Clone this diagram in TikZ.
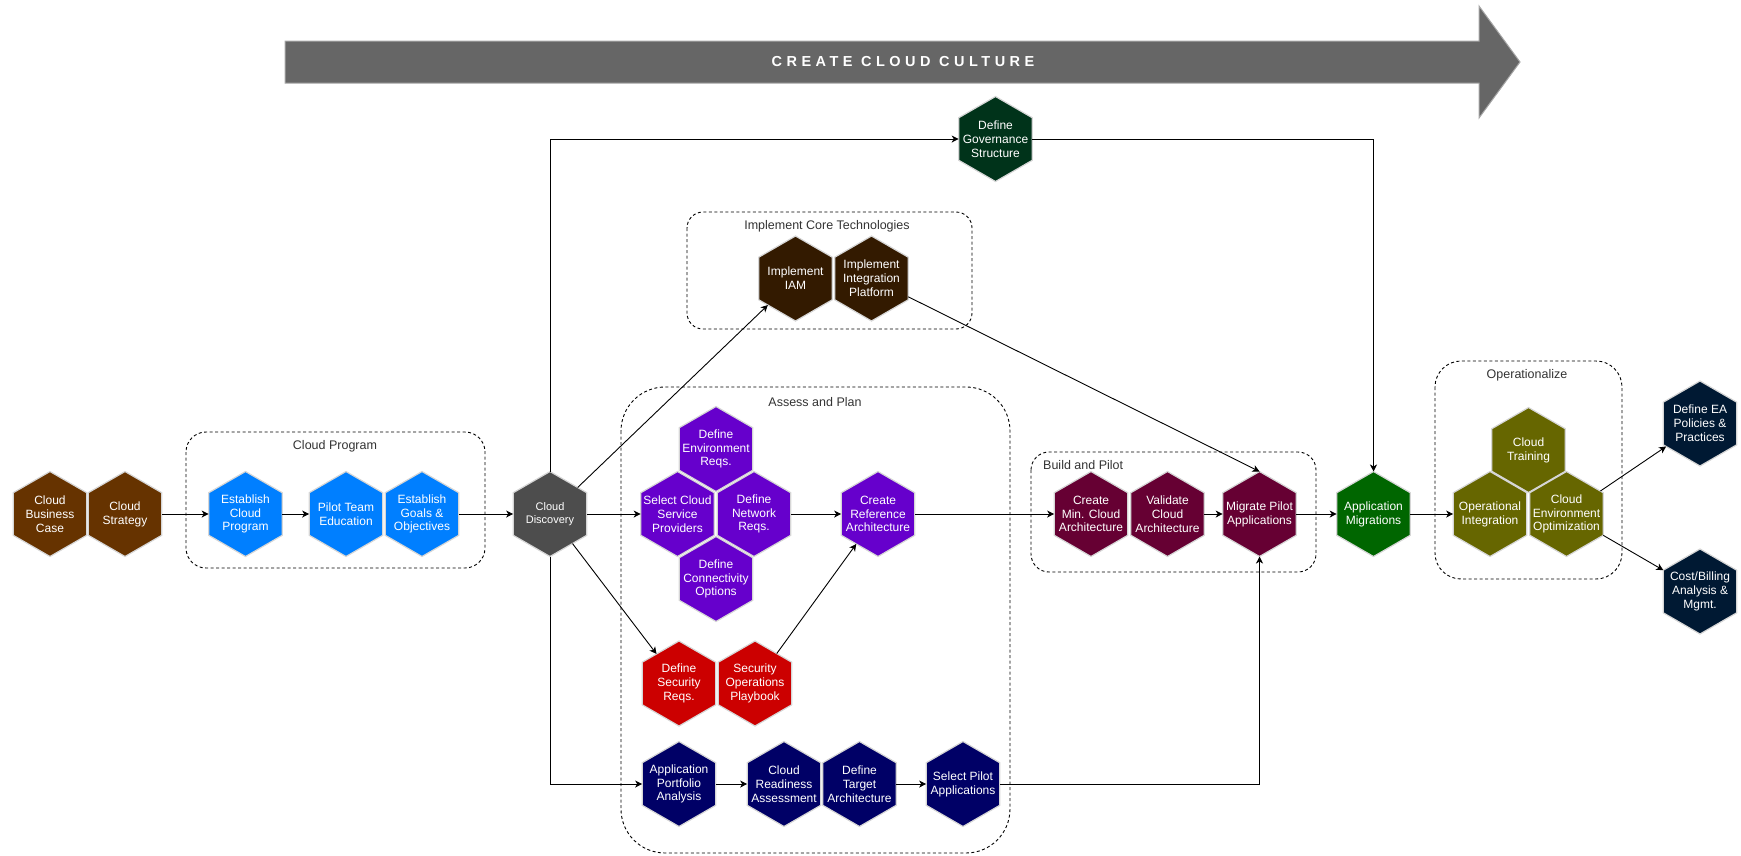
\documentclass[tikz,border=0pt]{standalone}
\usepackage{fontspec}
\setmainfont{Liberation Sans}
\usetikzlibrary{shapes.geometric,arrows.meta}
\definecolor{cbrown}{HTML}{663300}
\definecolor{cblue}{HTML}{007FFF}
\definecolor{cgray}{HTML}{4D4D4D}
\definecolor{cpurple}{HTML}{6600CC}
\definecolor{cred}{HTML}{CC0000}
\definecolor{cnavy}{HTML}{000066}
\definecolor{cdbrown}{HTML}{331A00}
\definecolor{cmaroon}{HTML}{660033}
\definecolor{cgreen}{HTML}{006600}
\definecolor{colive}{HTML}{666600}
\definecolor{cdnavy}{HTML}{001933}
\definecolor{cdgreen}{HTML}{00331A}
\definecolor{hexline}{HTML}{D6D6D6}
\definecolor{banfill}{HTML}{666666}
\definecolor{banline}{HTML}{A6A6A6}
\definecolor{ttlcol}{HTML}{333333}
\newcommand{\hexnode}[4]{%
  \node[hexs,fill=#3] (#1) at (#2) {};
  \node[hext] (#1-t) at (#2) {#4};}
\begin{document}
\begin{tikzpicture}[x=1pt,y=-1pt,
  hexs/.style={regular polygon, regular polygon sides=6, shape border rotate=30,
    minimum size=85pt, inner sep=0pt, outer sep=0pt, draw=hexline, line width=1.2pt},
  hext/.style={text=white, align=center, inner sep=0pt,
    font=\fontsize{12}{13.8}\selectfont},
  arr/.style={draw=black, line width=0.9pt, -{Stealth[length=7pt,width=7pt,inset=2pt]}},
  plain/.style={draw=black, line width=0.9pt},
  grp/.style={draw=black, line width=0.9pt, dash pattern=on 3pt off 2.5pt},
  ttl/.style={text=ttlcol, inner sep=0pt, font=\fontsize{12.5}{14}\selectfont}]
\useasboundingbox (0,0) rectangle (1741,855);

% banner
\draw[fill=banfill, draw=banline, line width=1pt]
  (285,41) -- (1479,41) -- (1479,6) -- (1520,62) -- (1479,118) -- (1479,83) -- (285,83) -- cycle;
\node[text=white, inner sep=0pt, font=\fontsize{14.5}{14.5}\selectfont\bfseries\addfontfeatures{LetterSpace=31}] (banner) at (903,62) {CREATE CLOUD CULTURE};

% group boxes
\draw[grp, rounded corners=20pt] (186,432) rectangle (485,568);
\node[ttl] (t-cp) at (335,446) {Cloud Program};
\draw[grp, rounded corners=16pt] (687,212) rectangle (972,329);
\node[ttl] (t-ict) at (827,226) {Implement Core Technologies};
\draw[grp, rounded corners=44pt] (621,387) rectangle (1010,853);
\node[ttl] (t-ap) at (815,402) {Assess and Plan};
\draw[grp, rounded corners=18pt] (1031,452) rectangle (1316,572);
\node[ttl, anchor=west] (t-bp) at (1043,465) {Build and Pilot};
\draw[grp, rounded corners=26pt] (1435,361) rectangle (1622,579);
\node[ttl] (t-op) at (1527,375) {Operationalize};

% hexagons
\hexnode{bc}{50,514}{cbrown}{Cloud\\Business\\Case}
\hexnode{cs}{125,514}{cbrown}{Cloud\\Strategy}
\hexnode{ecp}{245.5,514}{cblue}{Establish\\Cloud\\Program}
\hexnode{pte}{346,514}{cblue}{Pilot Team\\Education}
\hexnode{ego}{422,514}{cblue}{Establish\\Goals \&\\Objectives}
\node[hexs,fill=cgray] (cd) at (550,514) {};
\node[hext, font=\fontsize{11}{12.5}\selectfont] (cd-t) at (550,514) {Cloud\\Discovery};
\hexnode{gov}{995.5,139}{cdgreen}{Define\\Governance\\Structure}
\hexnode{iam}{795.5,278.5}{cdbrown}{Implement\\IAM}
\hexnode{iip}{871.5,278.5}{cdbrown}{Implement\\Integration\\Platform}
\hexnode{der}{716,449}{cpurple}{Define\\Environment\\Reqs.}
\hexnode{scsp}{677.5,514}{cpurple}{Select Cloud\\Service\\Providers}
\hexnode{dnr}{754,514}{cpurple}{Define\\Network\\Reqs.}
\hexnode{dco}{716,579}{cpurple}{Define\\Connectivity\\Options}
\hexnode{cra}{878,514}{cpurple}{Create\\Reference\\Architecture}
\hexnode{dsr}{679,683.5}{cred}{Define\\Security\\Reqs.}
\hexnode{sop}{755,683.5}{cred}{Security\\Operations\\Playbook}
\hexnode{apa}{679,784}{cnavy}{Application\\Portfolio\\Analysis}
\hexnode{crd}{784,784}{cnavy}{Cloud\\Readiness\\Assessment}
\hexnode{dta}{859.5,784}{cnavy}{Define\\Target\\Architecture}
\hexnode{spa}{963,784}{cnavy}{Select Pilot\\Applications}
\hexnode{cmca}{1091,514}{cmaroon}{Create\\Min. Cloud\\Architecture}
\hexnode{vca}{1167.5,514}{cmaroon}{Validate\\Cloud\\Architecture}
\hexnode{mpa}{1259.5,514}{cmaroon}{Migrate Pilot\\Applications}
\hexnode{am}{1373.5,514}{cgreen}{Application\\Migrations}
\hexnode{ct}{1528.5,450}{colive}{Cloud\\Training}
\hexnode{oi}{1490,514}{colive}{Operational\\Integration}
\hexnode{ceo}{1566.5,514}{colive}{Cloud\\Environment\\Optimization}
\hexnode{ea}{1700,423.5}{cdnavy}{Define EA\\Policies \&\\Practices}
\hexnode{cb}{1700,591.5}{cdnavy}{Cost/Billing\\Analysis \&\\Mgmt.}

% connectors
\draw[arr] (cs) -- (ecp);
\draw[arr] (ecp) -- (pte);
\draw[arr] (ego) -- (cd);
\draw[arr] (cd.north) |- (gov.west);
\draw[arr] (gov.east) -| (am.north);
\draw[arr] (cd) -- (iam);
\draw[arr] (cd) -- (scsp);
\draw[arr] (cd) -- (dsr);
\draw[arr] (cd.south) |- (apa.west);
\draw[arr] (dnr) -- (cra);
\draw[arr] (sop) -- (cra);
\draw[arr] (apa) -- (crd);
\draw[arr] (dta) -- (spa);
\draw[arr] (iip) -- (mpa.north);
\draw[arr] (cra) -- (cmca);
\draw[arr] (vca) -- (mpa);
\draw[arr] (spa.east) -| (mpa.south);
\draw[arr] (mpa) -- (am);
\draw[arr] (am) -- (oi);
\draw[arr] (ceo) -- (ea);
\draw[arr] (ceo) -- (cb);
\end{tikzpicture}
\end{document}
